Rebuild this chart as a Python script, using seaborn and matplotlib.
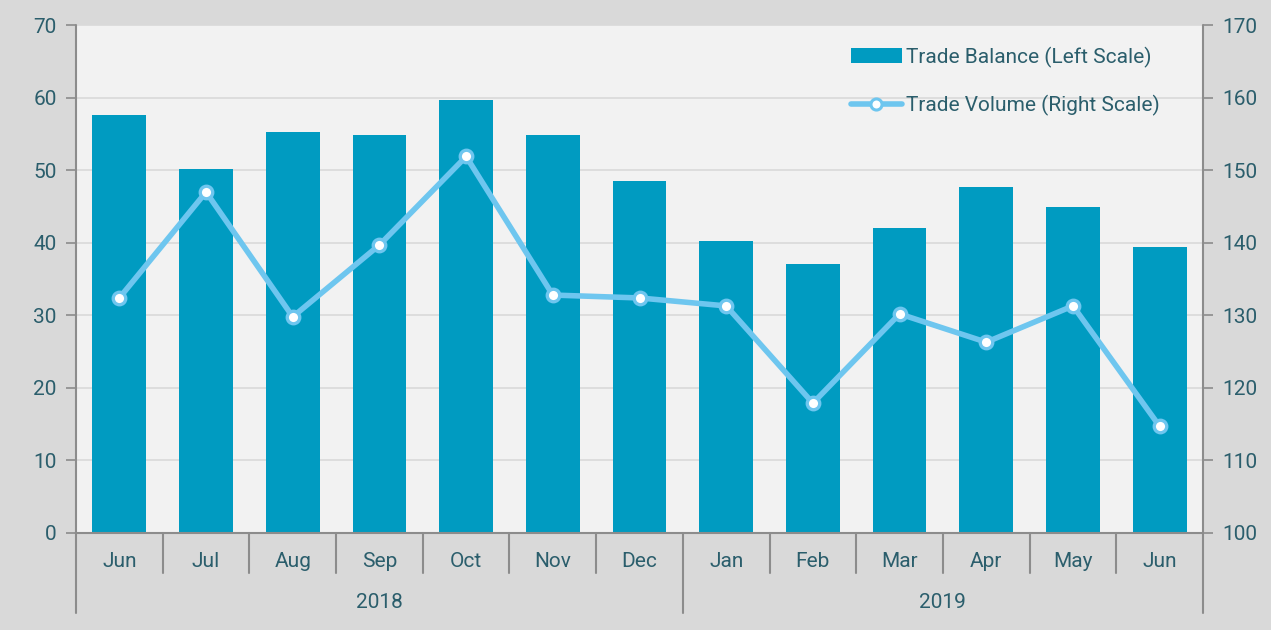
import numpy as np
import pandas as pd
import matplotlib
matplotlib.use("Agg")
import matplotlib.pyplot as plt
import matplotlib.transforms as mtransforms
from matplotlib.patches import Patch
from matplotlib.lines import Line2D
import seaborn as sns

# Monthly data, June 2018 - June 2019
months = ["Jun", "Jul", "Aug", "Sep", "Oct", "Nov", "Dec",
          "Jan", "Feb", "Mar", "Apr", "May", "Jun"]
years = ["2018"] * 7 + ["2019"] * 6
trade_balance = [57.6, 50.2, 55.3, 54.8, 59.7, 54.8, 48.5,
                 40.2, 37.1, 42.0, 47.7, 44.9, 39.4]
trade_volume = [132.4, 147.0, 129.8, 139.7, 151.9, 132.8, 132.4,
                131.3, 117.9, 130.2, 126.3, 131.3, 114.7]
left_ticks = [0, 10, 20, 30, 40, 50, 60, 70]
right_ticks = [100, 110, 120, 130, 140, 150, 160, 170]

df = pd.DataFrame({
    "key": [f"{m} {y}" for m, y in zip(months, years)],
    "month": months,
    "year": years,
    "balance": trade_balance,
    "volume": trade_volume,
})

BG = "#d9d9d9"
PANEL = "#f2f2f2"
BAR = "#009bc1"
LINE = "#6ec6ef"
TEXT = "#2b5e6c"
AXIS = "#8c8c8c"
FONT = ["Roboto", "DejaVu Sans"]

sns.set_style("white")
plt.rcParams["font.family"] = FONT

fig = plt.figure(figsize=(12.71, 6.30), dpi=100, facecolor=BG)
ax = fig.add_axes([0.0598, 0.154, 0.8867, 0.806])
ax.set_facecolor(PANEL)

sns.barplot(data=df, x="key", y="balance", order=df["key"], color=BAR,
            width=0.62, saturation=1, ax=ax, zorder=3,
            edgecolor="none", linewidth=0)
ax.set_ylim(0, 70)
ax.set_xlim(-0.5, len(df) - 0.5)
ax.set_yticks(left_ticks)
ax.yaxis.grid(True, color="#d9d9d9", lw=1.2, zorder=0)
ax.set_axisbelow(True)

ax2 = ax.twinx()
sns.pointplot(data=df, x="key", y="volume", order=df["key"], color=LINE,
              markers="o", ax=ax2, zorder=5, markersize=9,
              linewidth=4)
for coll in ax2.collections:
    coll.set_facecolor("white")
    coll.set_edgecolor(LINE)
    coll.set_linewidth(2.4)
for ln in ax2.lines:
    ln.set_markerfacecolor("white")
    ln.set_markeredgecolor(LINE)
    ln.set_markeredgewidth(2.4)
ax2.set_ylim(100, 170)
ax2.set_yticks(right_ticks)
ax2.set_xlim(-0.5, len(df) - 0.5)

for a in (ax, ax2):
    a.set_xlabel("")
    a.set_ylabel("")
    for s in a.spines.values():
        s.set_visible(False)
    a.tick_params(axis="y", colors=AXIS, labelcolor=TEXT, labelsize=15,
                  length=7, width=1.2, direction="out", pad=7)
ax.set_xticks([])
ax2.set_xticks([])
ax.tick_params(axis="y", left=True, right=False)
ax2.tick_params(axis="y", right=True, left=False)

# Axis frame and category separators below the panel
tr = mtransforms.blended_transform_factory(ax.transData, ax.transAxes)
h = ax.get_window_extent().height
lvl1 = -40 / h
lvl2 = -80 / h
n = len(df)
ax.plot([-0.5, n - 0.5], [0, 0], transform=tr, color=AXIS, lw=1.5,
        clip_on=False, zorder=6)
year_change = [i for i in range(1, n) if years[i] != years[i - 1]]
for b in range(n + 1):
    x = b - 0.5
    low = lvl2 if (b in (0, n) or b in year_change) else lvl1
    ax.plot([x, x], [0, low], transform=tr, color=AXIS, lw=1.5,
            clip_on=False)
# full-height side axes
for x in (-0.5, n - 0.5):
    ax.plot([x, x], [0, 1], transform=tr, color=AXIS, lw=1.5,
            clip_on=False, zorder=6)

for i, m in enumerate(months):
    ax.text(i, -29 / h, m, transform=tr, ha="center", va="center",
            color=TEXT, fontsize=15)
bounds = [0] + year_change + [n]
for s, e in zip(bounds[:-1], bounds[1:]):
    ax.text((s + e - 1) / 2, -70 / h, years[s], transform=tr,
            ha="center", va="center", color=TEXT, fontsize=15)

handles = [
    Patch(facecolor=BAR, edgecolor="none", label="Trade Balance (Left Scale)"),
    Line2D([0], [0], color=LINE, lw=4, marker="o", markersize=8,
           markerfacecolor="white", markeredgecolor=LINE, markeredgewidth=2.2,
           label="Trade Volume (Right Scale)"),
]
leg = ax2.legend(handles=handles, loc="upper left",
                 bbox_to_anchor=(0.671, 0.995), frameon=False, fontsize=15,
                 labelcolor=TEXT, handlelength=2.45, handletextpad=0.2,
                 labelspacing=1.3)

fig.savefig("out.png", dpi=100, facecolor=BG)
